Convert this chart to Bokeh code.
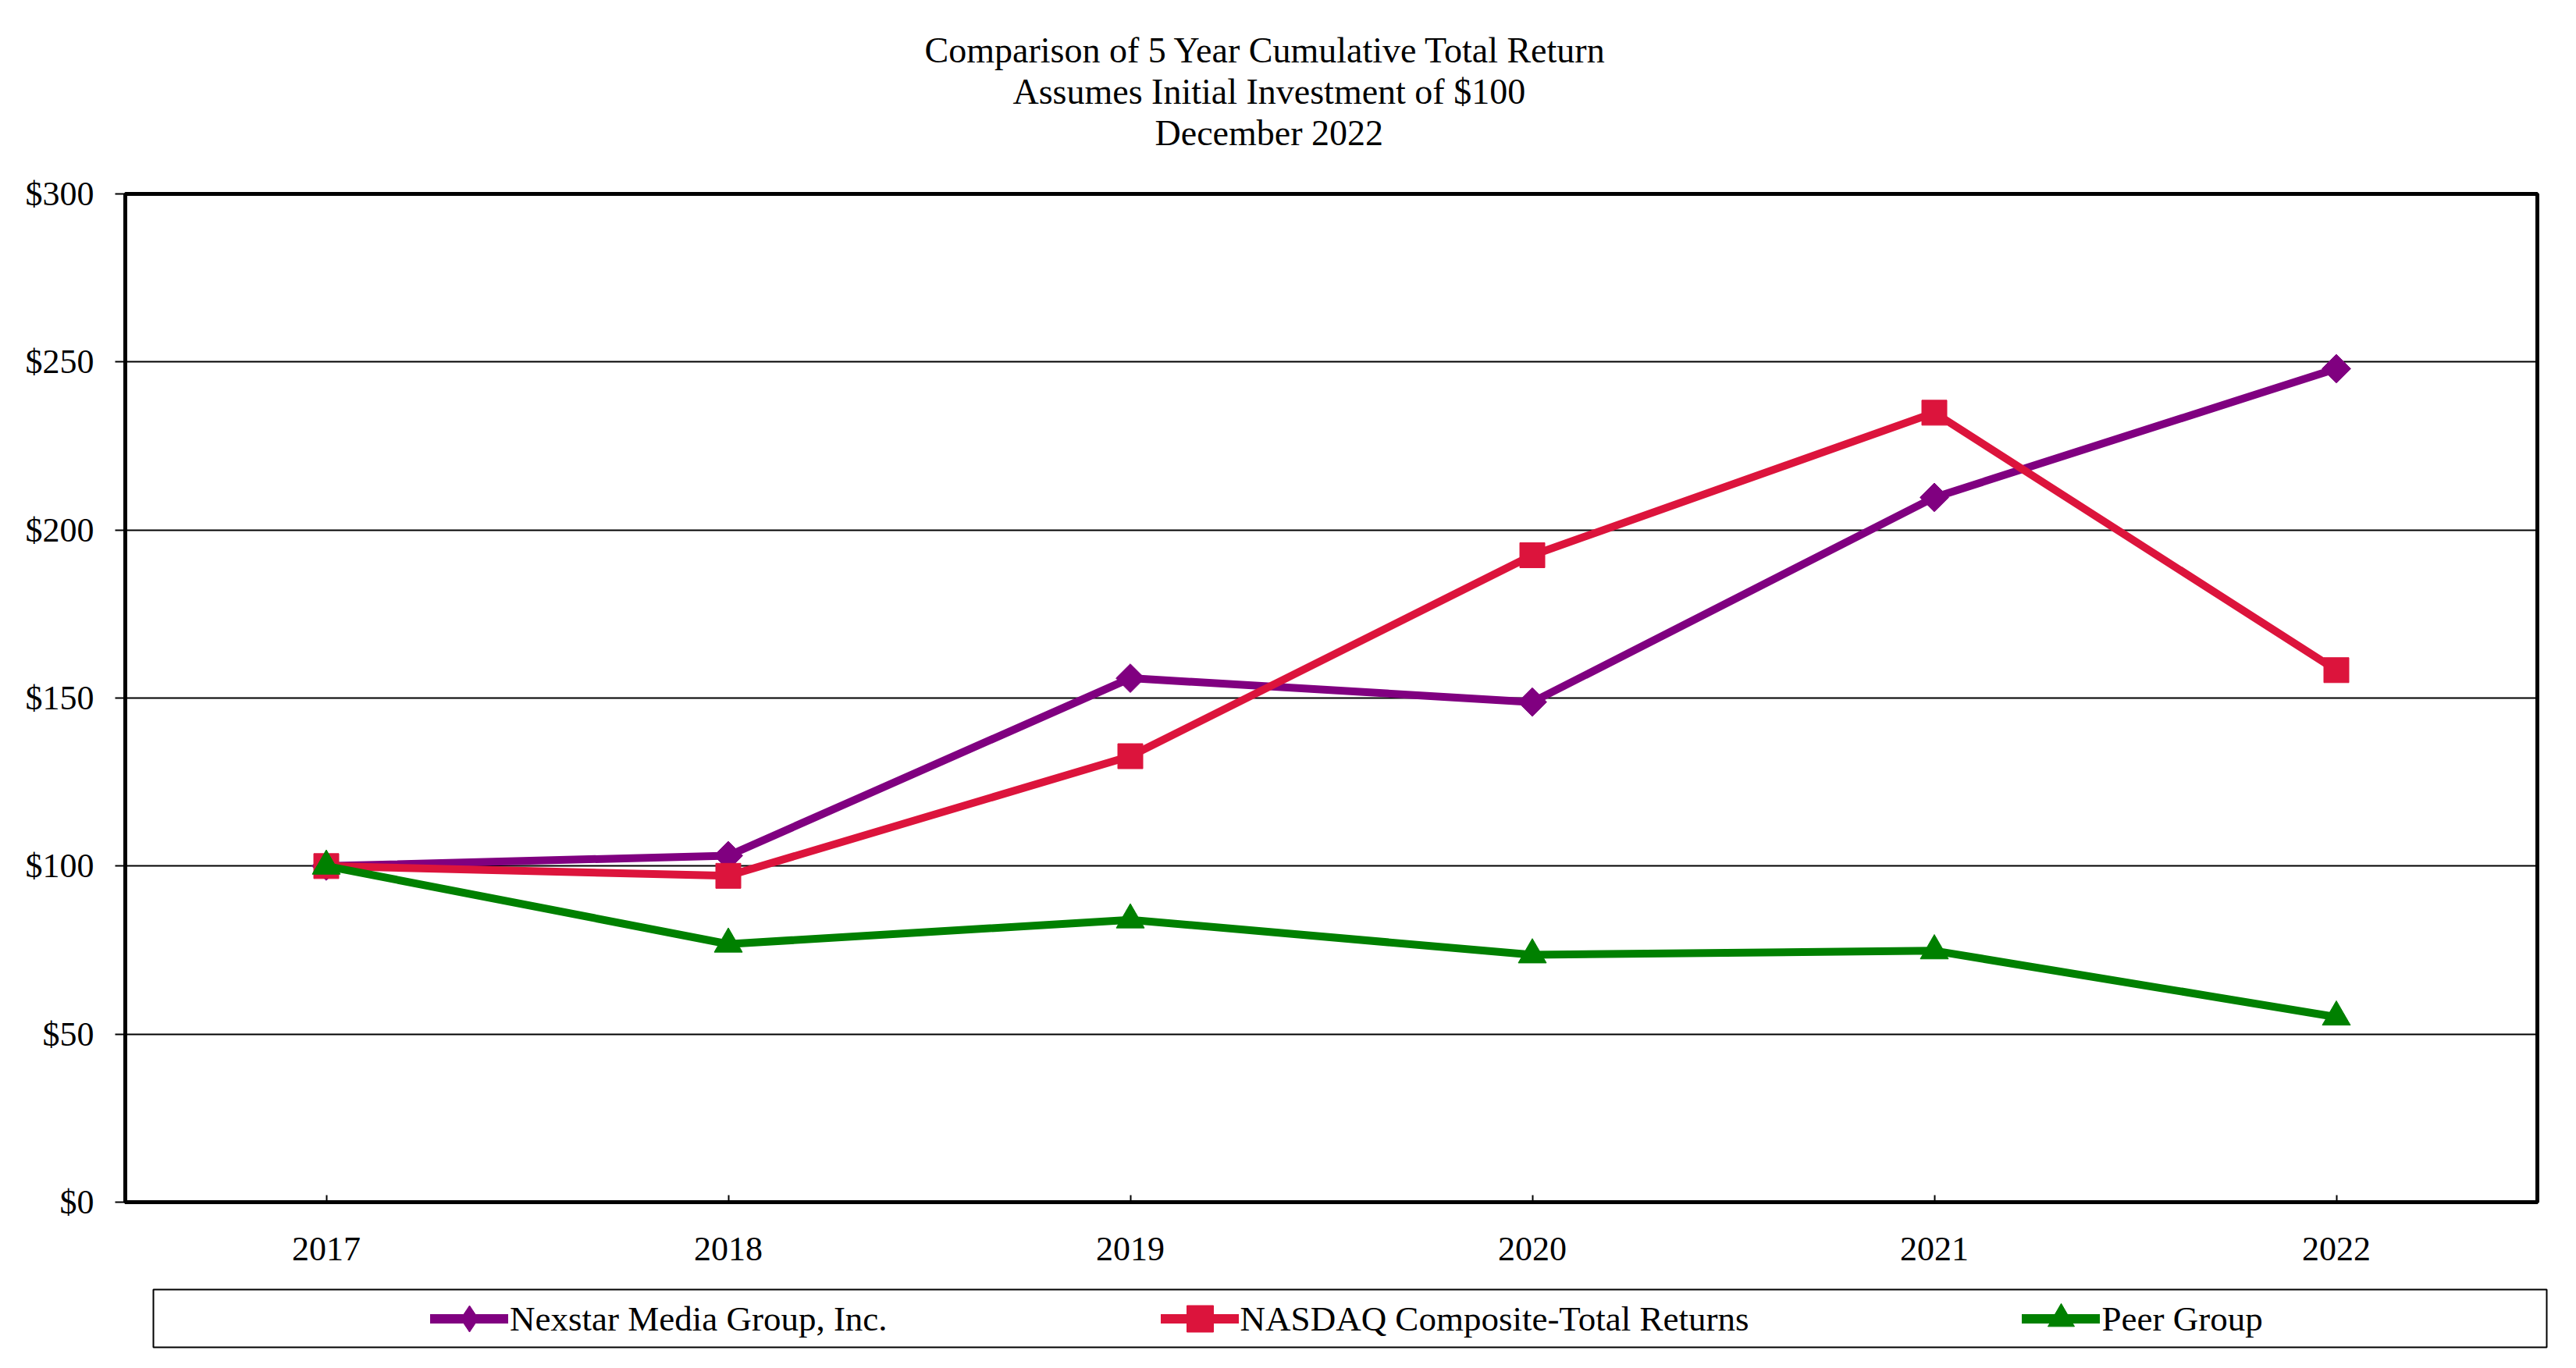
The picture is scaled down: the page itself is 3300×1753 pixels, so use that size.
import numpy as np
from bokeh.plotting import figure
from bokeh.models import (ColumnDataSource, FactorRange, Range1d, FixedTicker,
                          Title, Legend, LegendItem, BoxAnnotation)
from bokeh.layouts import column
from bokeh.embed import file_html
from bokeh.resources import INLINE

# ---------------- data ----------------
years = ["2017", "2018", "2019", "2020", "2021", "2022"]
nexstar = [100, 103.1, 155.9, 148.8, 209.7, 248.0]
nasdaq = [100, 97.1, 132.7, 192.5, 234.9, 158.3]
peer = [100, 76.8, 84.0, 73.6, 74.8, 55.1]
series_names = ["Nexstar Media Group, Inc.", "NASDAQ Composite-Total Returns", "Peer Group"]
y_ticks = [0, 50, 100, 150, 200, 250, 300]
y_tick_labels = ["$0", "$50", "$100", "$150", "$200", "$250", "$300"]
title_lines = ["Comparison of 5 Year Cumulative Total Return",
               "Assumes Initial Investment of $100",
               "December 2022"]

# ---------------- style ----------------
FONT = "Liberation Serif"
colors = ["#800080", "#DC143C", "#008000"]
markers = ["square", "square", "triangle"]
marker_sizes = [26, 32, 36]
marker_angles = [np.pi / 4, 0, 0]
legend_markers = ["diamond", "square", "triangle"]
title_offsets = [1024, 1137, 1319]   # px from frame left to start of each title line

p = figure(x_range=FactorRange(factors=years), y_range=Range1d(0, 300),
           frame_width=3090, frame_height=1292,
           min_border_left=160, min_border_right=34,
           min_border_top=248, min_border_bottom=100,
           output_backend="svg", toolbar_location=None,
           background_fill_color="white", border_fill_color="white")

p.outline_line_color = "black"
p.outline_line_width = 5
p.outline_line_alpha = 1.0

p.xgrid.visible = False
p.ygrid.grid_line_color = "black"
p.ygrid.grid_line_width = 2

p.yaxis.ticker = FixedTicker(ticks=y_ticks)
p.yaxis.major_label_overrides = {t: l for t, l in zip(y_ticks, y_tick_labels)}
p.yaxis.minor_tick_line_color = None
p.yaxis.major_tick_in = 0
p.yaxis.major_tick_out = 13
p.yaxis.major_label_standoff = 27

p.xaxis.major_tick_in = 9
p.xaxis.major_tick_out = 0
p.xaxis.major_label_standoff = 45

for ax in (p.xaxis, p.yaxis):
    ax.axis_line_color = "black"
    ax.axis_line_width = 5
    ax.major_tick_line_color = "black"
    ax.major_tick_line_width = 2
    ax.major_label_text_font = FONT
    ax.major_label_text_font_size = "44px"
    ax.major_label_text_color = "black"

for vals, c, m, s, a in zip([nexstar, nasdaq, peer], colors, markers, marker_sizes, marker_angles):
    src = ColumnDataSource(dict(x=years, y=vals))
    p.line("x", "y", source=src, line_width=10, line_color=c)
    p.scatter("x", "y", source=src, marker=m, size=s, angle=a,
              fill_color=c, line_color=c)

# titles: p.title is outermost; added titles stack outward from the plot
def style_title(t):
    t.align = "left"
    t.text_font = FONT
    t.text_font_size = "46px"
    t.text_font_style = "normal"
    t.text_color = "black"
    t.standoff = 0

p.title.text = title_lines[0]
p.title.offset = title_offsets[0]
style_title(p.title)

spacer = Title(text=" ")
style_title(spacer)
p.add_layout(spacer, "above")
for i in (2, 1):
    t = Title(text=title_lines[i], offset=title_offsets[i])
    style_title(t)
    p.add_layout(t, "above")

# ---------------- legend panel ----------------
p2 = figure(x_range=Range1d(160, 3270), y_range=Range1d(1740, 1640), title=None,
            frame_width=3110, frame_height=100,
            min_border_left=160, min_border_right=14,
            min_border_top=0, min_border_bottom=0,
            x_axis_location=None, y_axis_location=None,
            output_backend="svg", toolbar_location=None,
            background_fill_color="white", border_fill_color="white")
p2.grid.visible = False
p2.outline_line_color = None

p2.add_layout(BoxAnnotation(left=196, right=3262, top=1652, bottom=1726,
                            fill_alpha=0, line_color="black", line_alpha=1.0,
                            line_width=2))

items = []
for name, c, m in zip(series_names, colors, legend_markers):
    dummy = ColumnDataSource(dict(x=[np.nan], y=[np.nan]))
    rl = p2.line("x", "y", source=dummy, line_width=12, line_color=c, line_cap="round")
    rm = p2.scatter("x", "y", source=dummy, marker=m, fill_color=c, line_color=c)
    items.append(LegendItem(label=name, renderers=[rl, rm]))

legend = Legend(items=items, orientation="horizontal", location=(391, 8),
                spacing=350, glyph_width=100, glyph_height=85, label_standoff=2,
                padding=0, margin=0, border_line_alpha=0, background_fill_alpha=0,
                label_text_font=FONT, label_text_font_size="45px",
                label_text_color="black")
p2.add_layout(legend, "center")

layout = column(p, p2, spacing=0)
open("out.html", "w").write(file_html(layout, INLINE))
